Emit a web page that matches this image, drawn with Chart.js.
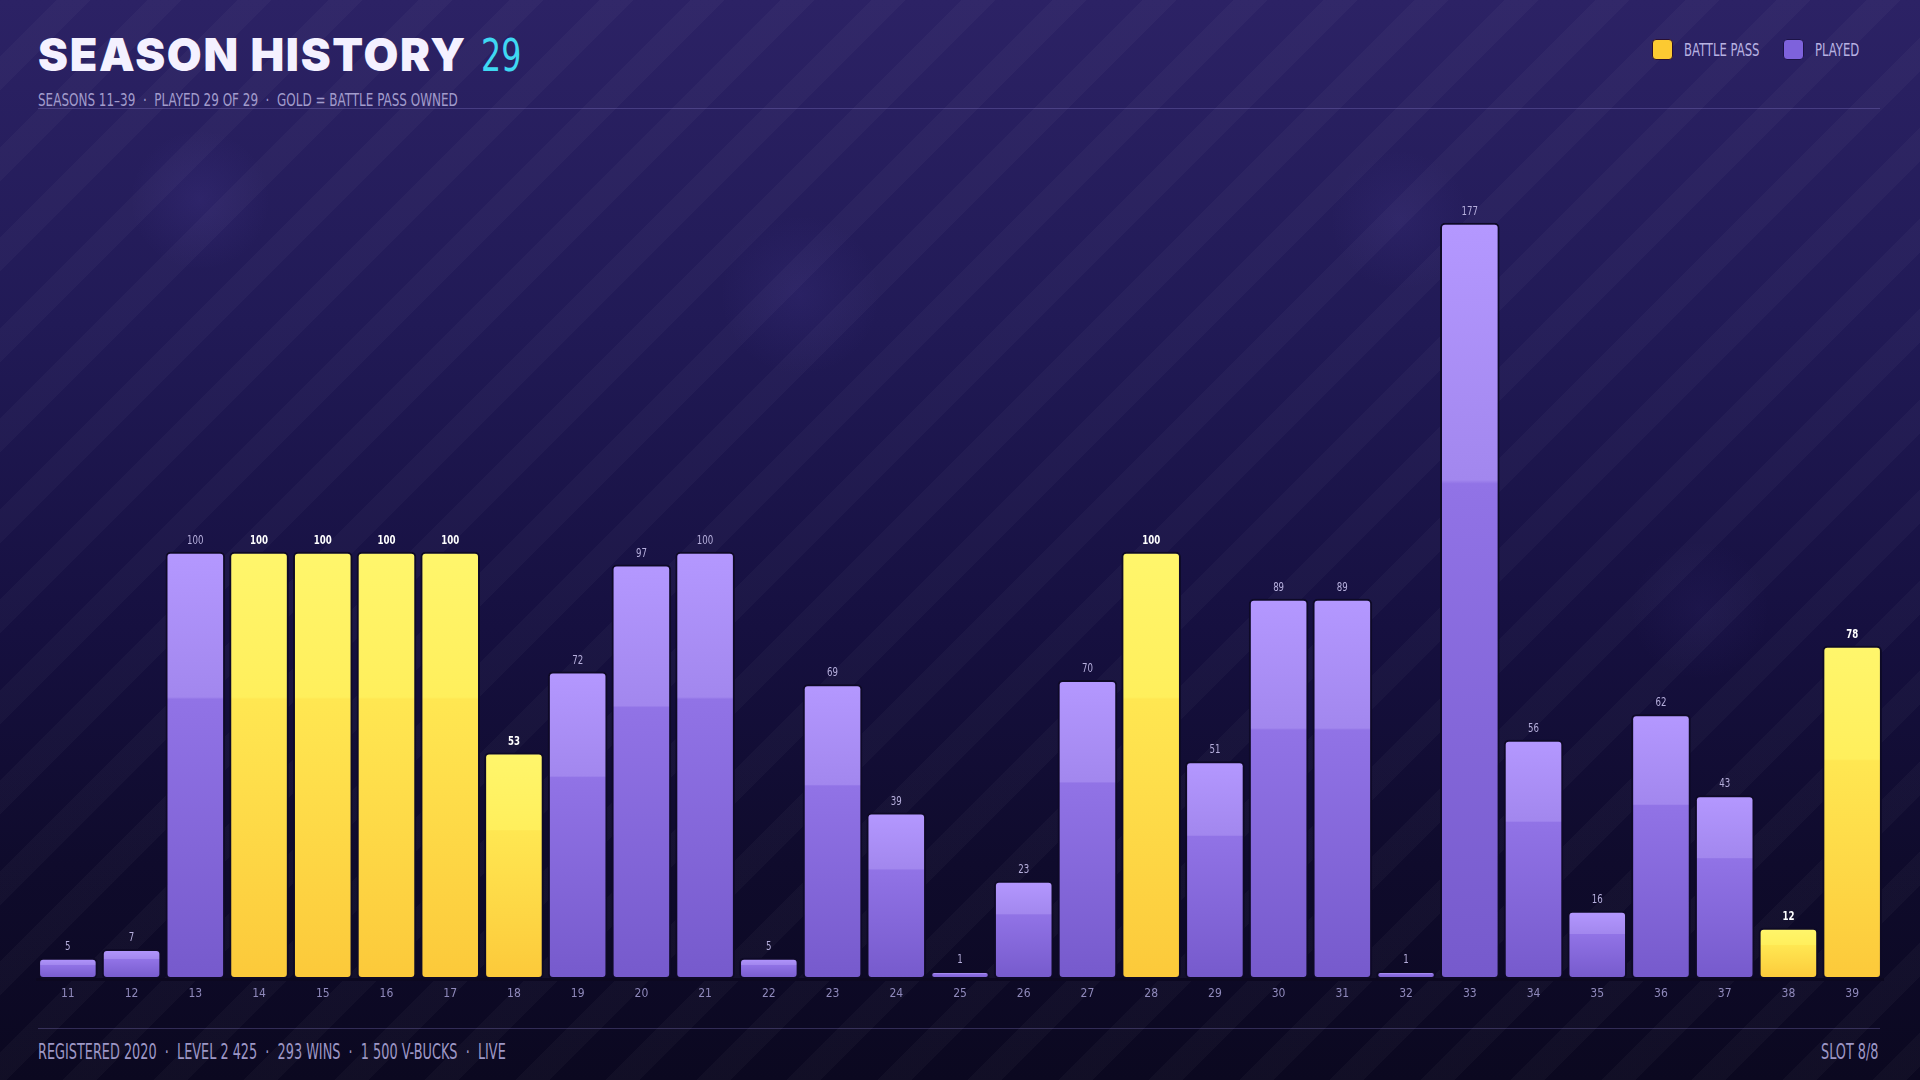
<!DOCTYPE html>
<html>
<head>
<meta charset="utf-8">
<script src="https://cdn.jsdelivr.net/npm/chart.js@4.4.1/dist/chart.umd.min.js"></script>
<style>
  html, body { margin: 0; padding: 0; }
  body {
    width: 1920px; height: 1080px; overflow: hidden; position: relative;
    font-family: "Liberation Sans Narrow", "DejaVu Sans Condensed", "DejaVu Sans", sans-serif;
    background:
      radial-gradient(circle at 200px 200px, rgba(120,100,220,0.10) 0, rgba(120,100,220,0) 70px),
      radial-gradient(circle at 800px 295px, rgba(120,100,220,0.09) 0, rgba(120,100,220,0) 80px),
      radial-gradient(circle at 1400px 220px, rgba(120,100,220,0.08) 0, rgba(120,100,220,0) 70px),
      radial-gradient(circle at 1700px 610px, rgba(120,100,220,0.06) 0, rgba(120,100,220,0) 70px),
      repeating-linear-gradient(135deg, rgba(255,255,255,0) 0, rgba(255,255,255,0) 40px, rgba(255,255,255,0.028) 40px, rgba(255,255,255,0.028) 64px),
      linear-gradient(180deg, #2c2265 0%, #211a56 30%, #161040 58%, #0f0b2c 80%, #0b0820 100%);
  }
  .narrow { display: inline-block; transform-origin: left center; white-space: nowrap; }
  .title {
    position: absolute; left: 38px; top: 30px;
    font-family: Inter, "DejaVu Sans", sans-serif; font-weight: 900;
    font-size: 45px; color: #f4f1ff; letter-spacing: 1.7px; line-height: 50px;
  }
  .count {
    position: absolute; left: 481px; top: 31px; line-height: 50px;
    font-weight: 400; color: #3fd8f2; font-size: 44px; transform: scaleX(0.8);
  }
  .subtitle { position: absolute; left: 38px; top: 89px; font-size: 18px; color: #a29ccc; transform: scaleX(0.74); }
  .rule { position: absolute; left: 38px; right: 40px; height: 1px; background: rgba(150,135,220,0.28); }
  .sw { position: absolute; top: 39px; width: 19px; height: 19px; border-radius: 4px; border: 1.5px solid #2a0f30; }
  .legtext { position: absolute; top: 39px; line-height: 22px; font-size: 18px; color: #b8b2e2; transform: scaleX(0.72); }
  .footer { position: absolute; top: 1040px; font-size: 21px; color: #9d97c6; transform: scaleX(0.68); }
  #wrap { position: absolute; left: 36px; top: 131px; width: 1848px; height: 884px; }
</style>
</head>
<body>
<div class="title">SEASON HISTORY</div>
<div class="count narrow">29</div>
<div class="subtitle narrow">SEASONS 11–39 &nbsp;·&nbsp; PLAYED 29 OF 29 &nbsp;·&nbsp; GOLD = BATTLE PASS OWNED</div>
<div class="rule" style="top:108px"></div>

<span class="sw" style="left:1652px;background:#fcca32"></span>
<span class="legtext narrow" style="left:1684px">BATTLE PASS</span>
<span class="sw" style="left:1783px;background:#7e62dc;border-color:#1c1348"></span>
<span class="legtext narrow" style="left:1815px">PLAYED</span>

<div id="wrap"><canvas id="seasonChart"></canvas></div>
<div class="rule" style="top:1028px"></div>
<div class="footer narrow" style="left:38px">REGISTERED 2020 &nbsp;·&nbsp; LEVEL 2 425 &nbsp;·&nbsp; 293 WINS &nbsp;·&nbsp; 1 500 V-BUCKS &nbsp;·&nbsp; LIVE</div>
<div class="footer narrow" style="left:1821px">SLOT 8/8</div>

<script>
const seasons = ['11', '12', '13', '14', '15', '16', '17', '18', '19', '20',
  '21', '22', '23', '24', '25', '26', '27', '28', '29', '30',
  '31', '32', '33', '34', '35', '36', '37', '38', '39']
const levels = [5, 7, 100, 100, 100, 100, 100, 53, 72, 97,
  100, 5, 69, 39, 1, 23, 70, 100, 51, 89,
  89, 1, 177, 56, 16, 62, 43, 12, 78]
const battlePass = [false, false, false, true, true, true, true, true, false, false,
  false, false, false, false, false, false, false, true, false, false,
  false, false, false, false, false, false, false, true, true]

const labelFont = '"Liberation Sans Narrow", "DejaVu Sans Condensed", "DejaVu Sans", sans-serif'

// gradiente por barra: topo mais claro (34%), depois um degrau mais escuro
const barFill = (context) => {
  const i = context.dataIndex
  const gold = battlePass[i]
  const chart = context.chart
  if (!chart.chartArea || context.type !== 'data') return gold ? '#ffde4c' : '#8c6ee2'
  const yScale = chart.scales.y
  const bottom = yScale.getPixelForValue(0)
  const top = Math.min(yScale.getPixelForValue(levels[i]), bottom - 8)
  const g = chart.ctx.createLinearGradient(0, top, 0, bottom)
  if (gold) {
    g.addColorStop(0, '#fff66c')
    g.addColorStop(0.34, '#ffef5c')
    g.addColorStop(0.345, '#ffe752')
    g.addColorStop(1, '#fcc93a')
  } else {
    g.addColorStop(0, '#b498ff')
    g.addColorStop(0.34, '#a287ee')
    g.addColorStop(0.345, '#9173e6')
    g.addColorStop(1, '#765acc')
  }
  return g
}

const valueLabels = {
  id: 'valueLabels',
  afterDatasetsDraw(chart) {
    const ctx = chart.ctx
    const meta = chart.getDatasetMeta(0)
    ctx.save()
    ctx.textAlign = 'center'
    ctx.textBaseline = 'bottom'
    meta.data.forEach((bar, i) => {
      const gold = battlePass[i]
      ctx.font = (gold ? 'bold ' : '') + '12px ' + labelFont
      ctx.fillStyle = gold ? '#ffffff' : '#b6afdc'
      ctx.save()
      ctx.translate(bar.x, bar.y - 5)
      ctx.scale(0.8, 1)
      ctx.fillText(levels[i], 0, 0)
      ctx.restore()
    })
    ctx.restore()
  }
}

const chartSeasons = new Chart(document.getElementById('seasonChart').getContext('2d'), {
  type: 'bar',
  data: {
    labels: seasons,
    datasets: [{
      label: 'Level',
      data: levels,
      backgroundColor: barFill,
      borderColor: '#0e0a26',
      borderWidth: 2,
      borderRadius: 5,
      borderSkipped: false,
      minBarLength: 8,
      barPercentage: 1,
      categoryPercentage: 0.935,
    }]
  },
  options: {
    responsive: true,
    maintainAspectRatio: false,
    animation: false,
    layout: { padding: 0 },
    plugins: {
      legend: { display: false },
      tooltip: { enabled: false },
    },
    scales: {
      x: {
        grid: { display: false },
        border: { display: true, color: '#0c0820', width: 3 },
        ticks: { color: '#8f89bb', font: { family: labelFont, size: 12 }, padding: 0 },
        afterFit: (scale) => { scale.height = 36 },
      },
      y: {
        display: false,
        min: 0,
        max: 198.5,
      }
    }
  },
  plugins: [valueLabels]
})
</script>
</body>
</html>
